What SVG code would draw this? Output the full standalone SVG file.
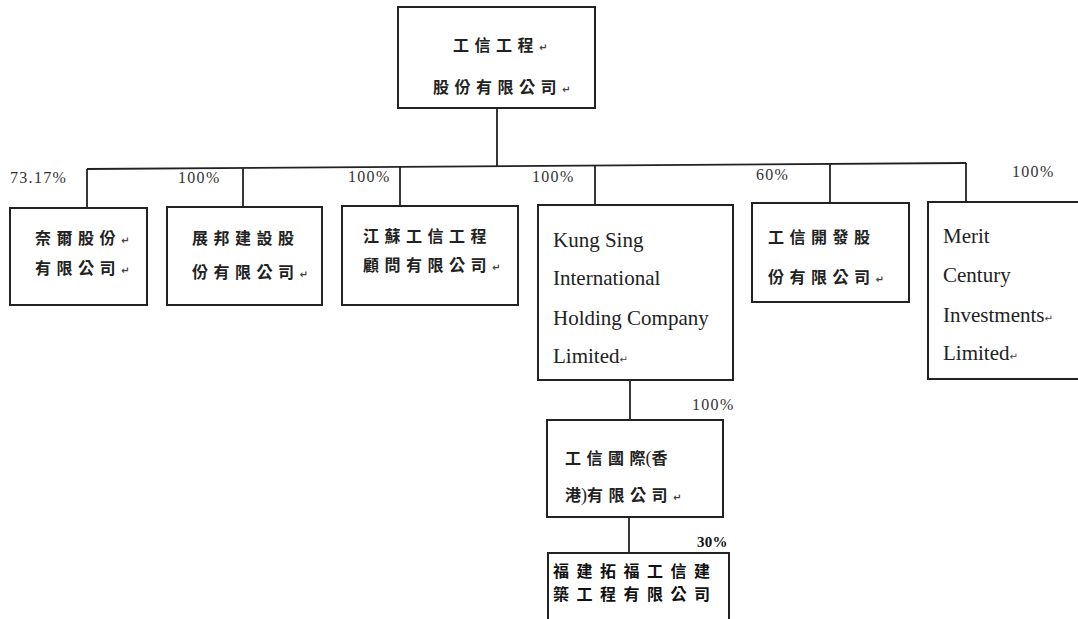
<svg xmlns="http://www.w3.org/2000/svg" width="1078" height="619" viewBox="0 0 1078 619">
<style>
.box{fill:#fff;stroke:#222;stroke-width:2}
.ln{stroke:#222;stroke-width:1.8;fill:none}
.zh{font-family:"Noto Sans CJK TC","Noto Sans CJK SC",sans-serif;font-size:16px;font-weight:700;fill:#222;letter-spacing:5.5px}
.en{font-family:"Liberation Serif",serif;font-size:21px;fill:#222}
.pc{font-family:"Liberation Serif",serif;font-size:16px;fill:#333;letter-spacing:1.3px}
.rt{font-family:"DejaVu Sans",sans-serif;font-size:10px;fill:#444;letter-spacing:0}
.par{font-family:"Liberation Serif",serif;font-weight:400;font-size:18px;letter-spacing:0}
</style>
<rect width="1078" height="619" fill="#fff"/>
<g id="connectors">
<line class="ln" x1="497" y1="108" x2="497" y2="166"/>
<line class="ln" x1="87" y1="169" x2="966" y2="163"/>
<line class="ln" x1="87" y1="169" x2="87" y2="208"/>
<line class="ln" x1="243" y1="168" x2="243" y2="207"/>
<line class="ln" x1="400" y1="167" x2="400" y2="206"/>
<line class="ln" x1="595" y1="166" x2="595" y2="205"/>
<line class="ln" x1="830" y1="164" x2="830" y2="203"/>
<line class="ln" x1="966" y1="163" x2="966" y2="202"/>
<line class="ln" x1="630" y1="380" x2="630" y2="420"/>
<line class="ln" x1="629" y1="517" x2="629" y2="553"/>
<text class="pc" x="10" y="183">73.17%</text>
<text class="pc" x="178" y="183">100%</text>
<text class="pc" x="348" y="182">100%</text>
<text class="pc" x="532" y="182">100%</text>
<text class="pc" x="756" y="180">60%</text>
<text class="pc" x="1012" y="177">100%</text>
<text class="pc" x="692" y="410">100%</text>
<text class="pc" x="697" y="547" style="font-weight:700;fill:#111;letter-spacing:0.3px;font-size:15px">30%</text>
</g>
<g id="n-top">
<rect class="box" x="398" y="7" width="197" height="101"/>
<text class="zh" x="453" y="51">工信工程<tspan class="rt">↵</tspan></text>
<text class="zh" x="433" y="93">股份有限公司<tspan class="rt">↵</tspan></text>
</g>
<g id="n-naier">
<rect class="box" x="10" y="208" width="137" height="97"/>
<text class="zh" x="35" y="244">奈爾股份<tspan class="rt">↵</tspan></text>
<text class="zh" x="35" y="274">有限公司<tspan class="rt">↵</tspan></text>
</g>
<g id="n-zhanbang">
<rect class="box" x="167" y="207" width="155" height="98"/>
<text class="zh" x="192" y="244">展邦建設股</text>
<text class="zh" x="192" y="278">份有限公司<tspan class="rt">↵</tspan></text>
</g>
<g id="n-jiangsu">
<rect class="box" x="342" y="206" width="176" height="99"/>
<text class="zh" x="363" y="242">江蘇工信工程</text>
<text class="zh" x="363" y="271">顧問有限公司<tspan class="rt">↵</tspan></text>
</g>
<g id="n-kungsing">
<rect class="box" x="538" y="205" width="195" height="175"/>
<text class="en" x="553" y="247">Kung Sing</text>
<text class="en" x="553" y="285">International</text>
<text class="en" x="553" y="325">Holding Company</text>
<text class="en" x="553" y="363">Limited<tspan class="rt">↵</tspan></text>
</g>
<g id="n-kaifa">
<rect class="box" x="752" y="203" width="157" height="99"/>
<text class="zh" x="768" y="243">工信開發股</text>
<text class="zh" x="768" y="283">份有限公司<tspan class="rt">↵</tspan></text>
</g>
<g id="n-merit">
<rect class="box" x="928" y="202" width="162" height="177"/>
<text class="en" x="943" y="243">Merit</text>
<text class="en" x="943" y="282">Century</text>
<text class="en" x="943" y="322">Investments<tspan class="rt">↵</tspan></text>
<text class="en" x="943" y="360">Limited<tspan class="rt">↵</tspan></text>
</g>
<g id="n-hk">
<rect class="box" x="547" y="420" width="176" height="97"/>
<text class="zh" x="565" y="464">工信國<tspan style="letter-spacing:0">際</tspan><tspan class="par">(</tspan>香</text>
<text class="zh" x="565" y="501"><tspan style="letter-spacing:0">港</tspan><tspan class="par">)</tspan>有限公司<tspan class="rt">↵</tspan></text>
</g>
<g id="n-fujian">
<rect class="box" x="548" y="553" width="181" height="90"/>
<text class="zh" x="553" y="577" style="font-size:16px;letter-spacing:7.5px;fill:#111">福建拓福工信建</text>
<text class="zh" x="553" y="600" style="font-size:16px;letter-spacing:7.5px;fill:#111">築工程有限公司</text>
</g>
</svg>
